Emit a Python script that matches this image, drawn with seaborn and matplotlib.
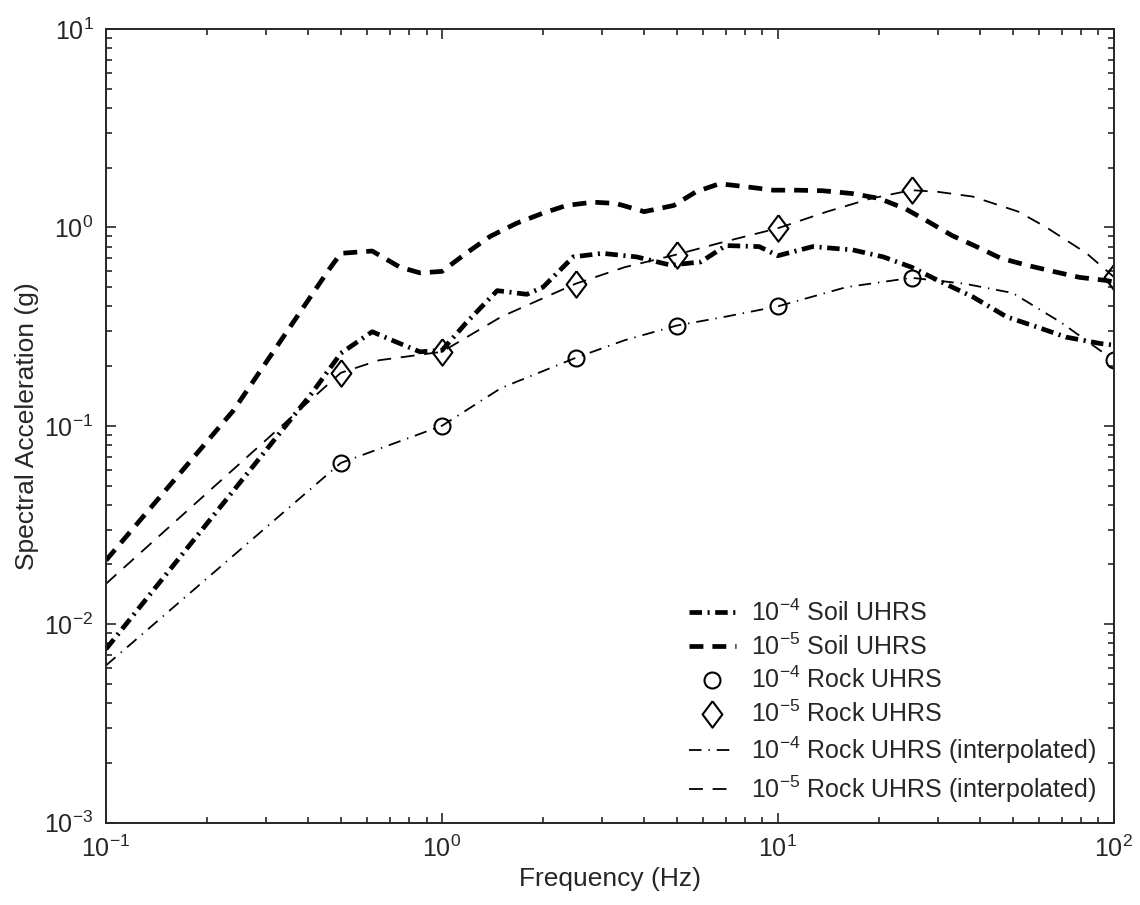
import matplotlib
matplotlib.use("Agg")
import matplotlib.pyplot as plt
import seaborn as sns
from matplotlib.ticker import LogLocator, LogFormatterMathtext, NullFormatter

# Rock UHRS values at the computed frequencies (markers)
rock_freq = [0.5, 1, 2.5, 5, 10, 25, 100]
rock_1e4 = [0.065, 0.10, 0.22, 0.32, 0.40, 0.557, 0.214]
rock_1e5 = [0.185, 0.236, 0.52, 0.73, 0.99, 1.54, 0.563]

# Rock UHRS interpolated curves
rock_1e4_int_freq = [0.1, 0.5, 1, 1.5, 2.5, 3.5, 5, 7, 10, 16, 25, 36, 50, 70, 100]
rock_1e4_int = [0.0062, 0.065, 0.10, 0.155, 0.22, 0.27, 0.32, 0.355, 0.40, 0.50, 0.557,
                0.52, 0.467, 0.33, 0.214]
rock_1e5_int_freq = [0.1, 0.5, 0.65, 1, 1.5, 2.5, 3.5, 5, 7, 10, 14, 19, 25, 30, 38,
                     52, 63, 83, 100]
rock_1e5_int = [0.016, 0.185, 0.214, 0.236, 0.354, 0.52, 0.63, 0.73, 0.85, 0.99, 1.2,
                1.4, 1.54, 1.51, 1.43, 1.2, 1.0, 0.74, 0.563]

# Soil UHRS curves
soil_1e5_freq = [0.1, 0.24, 0.46, 0.5, 0.62, 0.75, 0.86, 1.0, 1.18, 1.39, 1.67, 2.0,
                 2.35, 2.82, 3.3, 4.0, 4.9, 5.7, 6.7, 8.1, 9.7, 11.4, 13.6, 16.7, 20,
                 24, 28, 33, 39, 46, 55, 66, 79, 95, 100]
soil_1e5 = [0.021, 0.12, 0.61, 0.74, 0.76, 0.63, 0.59, 0.60, 0.74, 0.90, 1.05, 1.18,
            1.29, 1.34, 1.32, 1.2, 1.29, 1.51, 1.66, 1.6, 1.54, 1.54, 1.53, 1.48, 1.40,
            1.24, 1.07, 0.91, 0.80, 0.70, 0.645, 0.60, 0.56, 0.54, 0.53]
soil_1e4_freq = [0.1, 0.41, 0.5, 0.62, 0.71, 0.86, 1.0, 1.18, 1.46, 1.79, 2.0, 2.46,
                 3.0, 3.8, 4.8, 5.9, 7.0, 8.8, 10.0, 12.7, 16.7, 20.6, 25, 30, 38, 48,
                 59, 72, 91, 100]
soil_1e4 = [0.0075, 0.146, 0.232, 0.298, 0.27, 0.236, 0.24, 0.33, 0.48, 0.46, 0.50,
            0.71, 0.74, 0.71, 0.645, 0.67, 0.81, 0.80, 0.72, 0.80, 0.77, 0.71, 0.63,
            0.54, 0.447, 0.354, 0.315, 0.28, 0.26, 0.255]

labels = [r"$10^{-4}$ Soil UHRS",
          r"$10^{-5}$ Soil UHRS",
          r"$10^{-4}$ Rock UHRS",
          r"$10^{-5}$ Rock UHRS",
          r"$10^{-4}$ Rock UHRS (interpolated)",
          r"$10^{-5}$ Rock UHRS (interpolated)"]

sns.set_style("ticks")
plt.rcParams["font.family"] = ["Liberation Sans", "DejaVu Sans"]
plt.rcParams["mathtext.default"] = "regular"
plt.rcParams["lines.scale_dashes"] = False

# slightly tall diamond, like the MATLAB one
diamond = [(0, 1), (0.75, 0), (0, -1), (-0.75, 0), (0, 1)]

fig = plt.figure(figsize=(11.4, 9.05), dpi=100)
ax = fig.add_axes([0.093, 0.091, 0.884, 0.877])

# thick soil curves
sns.lineplot(x=soil_1e4_freq, y=soil_1e4, ax=ax, color="black", linewidth=3.4,
             linestyle=(0, (9, 4, 1.5, 4)), errorbar=None, sort=False)
sns.lineplot(x=soil_1e5_freq, y=soil_1e5, ax=ax, color="black", linewidth=3.4,
             linestyle=(0, (10, 6.5)), errorbar=None, sort=False)
# thin interpolated rock curves
sns.lineplot(x=rock_1e4_int_freq, y=rock_1e4_int, ax=ax, color="black", linewidth=1.3,
             linestyle=(0, (9, 5, 1, 5)), errorbar=None, sort=False)
sns.lineplot(x=rock_1e5_int_freq, y=rock_1e5_int, ax=ax, color="black", linewidth=1.3,
             linestyle=(0, (10, 7)), errorbar=None, sort=False)
# rock markers
sns.lineplot(x=rock_freq, y=rock_1e4, ax=ax, color="black", linestyle="none",
             marker="o", markersize=11.5, markerfacecolor="none",
             markeredgecolor="black", markeredgewidth=1.5, errorbar=None)
sns.lineplot(x=rock_freq, y=rock_1e5, ax=ax, color="black", linestyle="none",
             marker=diamond, markersize=19, markerfacecolor="none",
             markeredgecolor="black", markeredgewidth=1.5, errorbar=None)

ax.set_xscale("log")
ax.set_yscale("log")
ax.set_xlim(0.1, 100)
ax.set_ylim(1e-3, 10)

ax.xaxis.set_major_locator(LogLocator(base=10, numticks=10))
ax.yaxis.set_major_locator(LogLocator(base=10, numticks=10))
ax.xaxis.set_minor_locator(LogLocator(base=10, subs=range(2, 10), numticks=20))
ax.yaxis.set_minor_locator(LogLocator(base=10, subs=range(2, 10), numticks=20))
ax.xaxis.set_major_formatter(LogFormatterMathtext())
ax.yaxis.set_major_formatter(LogFormatterMathtext())
ax.xaxis.set_minor_formatter(NullFormatter())
ax.yaxis.set_minor_formatter(NullFormatter())

ax.tick_params(which="both", direction="in", top=True, right=True, width=1.2,
               labelsize=18, pad=9)
ax.tick_params(which="major", length=7)
ax.tick_params(which="minor", length=4)
for sp in ax.spines.values():
    sp.set_linewidth(1.4)

ax.set_xlabel("Frequency (Hz)", fontsize=19, labelpad=4)
ax.set_ylabel("Spectral Acceleration (g)", fontsize=19, labelpad=4)

lines = ax.get_lines()
handles = [lines[0], lines[1], lines[4], lines[5], lines[2], lines[3]]
ax.legend(handles, labels, loc="lower right", frameon=False, fontsize=18,
          handlelength=1.9, handletextpad=0.6, labelspacing=0.3,
          borderaxespad=0.3)

fig.savefig("out.png", dpi=100)
